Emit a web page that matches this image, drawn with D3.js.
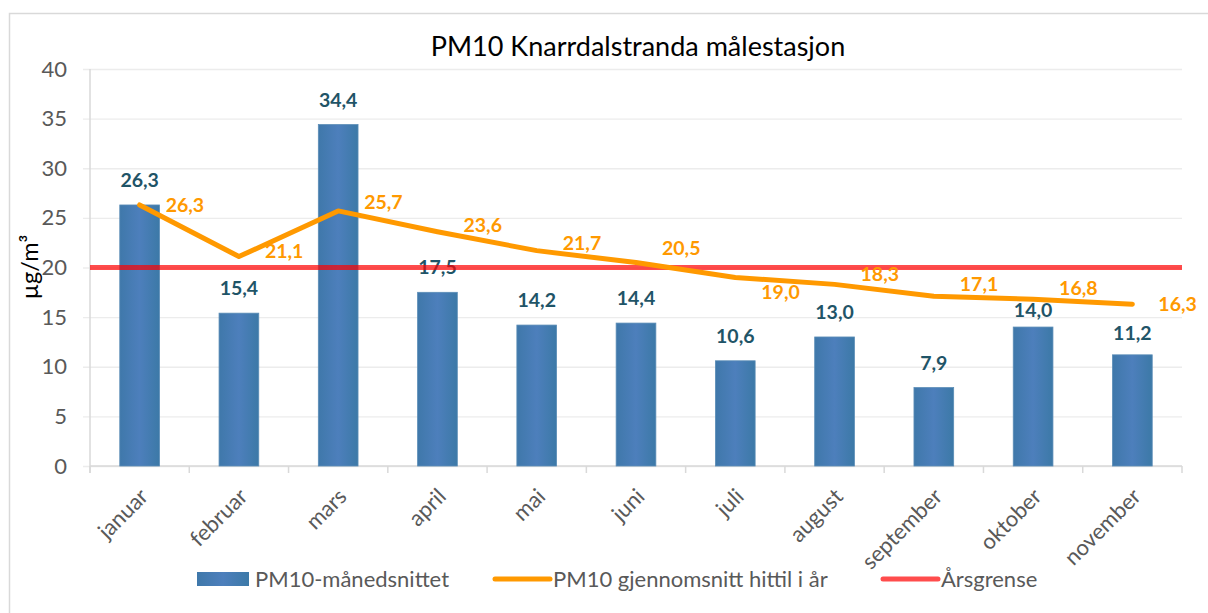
<!DOCTYPE html>
<html>
<head>
<meta charset="utf-8">
<script src="https://cdn.jsdelivr.net/npm/d3@7"></script>
<style>
  body { margin: 0; background: #fff; }
  text { font-family: Lato, "Open Sans", sans-serif; }
</style>
</head>
<body>
<div id="chart"></div>
<script>
// data
var months = ["januar", "februar", "mars", "april", "mai", "juni", "juli", "august", "september", "oktober", "november"];
var monthly = [26.3, 15.4, 34.4, 17.5, 14.2, 14.4, 10.6, 13.0, 7.9, 14.0, 11.2];
var runningAvg = [26.3, 21.1, 25.7, 23.6, 21.7, 20.5, 19.0, 18.3, 17.1, 16.8, 16.3];
var yearLimit = 20;
var yTicks = [0, 5, 10, 15, 20, 25, 30, 35, 40];
var seriesNames = ["PM10-månedsnittet", "PM10 gjennomsnitt hittil i år", "Årsgrense"];
// label nudges (px), as placed in the original
var avgLabelDy = [0, -5, -9, -7, -7, -14, 15, -10, -12, -11, 0];
var barLabelDy = [0, 0, 0, 0, 0, 0, 0, 0, 0, 8, 3];

var svgWidth = 1208, svgHeight = 613;
var margin = { top: 69, right: 26, bottom: 147, left: 90 };
var width = svgWidth - margin.left - margin.right;
var height = svgHeight - margin.top - margin.bottom;

var svg = d3.select("#chart").append("svg")
    .attr("width", svgWidth)
    .attr("height", svgHeight);

// chart border
svg.append("rect")
    .attr("x", 9.5).attr("y", 13.5)
    .attr("width", 1210).attr("height", 620)
    .attr("fill", "none")
    .attr("stroke", "#d9d9d9")
    .attr("stroke-width", 1.5);

// title
svg.append("text")
    .attr("x", 638).attr("y", 56)
    .attr("text-anchor", "middle")
    .attr("font-size", 27)
    .attr("fill", "#000")
    .text("PM10 Knarrdalstranda målestasjon");

var g = svg.append("g")
    .attr("transform", "translate(" + margin.left + "," + margin.top + ")");

var x = d3.scaleBand().domain(months).range([0, width]).padding(0);
var y = d3.scaleLinear().domain([0, 40]).range([height, 0]);
var barW = x.bandwidth() * 0.4;

// gridlines + y axis
var yAxis = g.append("g")
    .call(d3.axisLeft(y).tickValues(yTicks).tickSize(-width - 7).tickPadding(16))
    .attr("transform", "translate(-7,0)");
yAxis.select(".domain").remove();
yAxis.selectAll(".tick line").attr("stroke", "#ececec").attr("stroke-width", 1.3);
yAxis.selectAll(".tick text")
    .attr("fill", "#595959")
    .attr("font-size", 22)
    .attr("font-family", "Lato, sans-serif");

// vertical axis line
g.append("line")
    .attr("x1", 0).attr("x2", 0)
    .attr("y1", 0).attr("y2", height + 7)
    .attr("stroke", "#d9d9d9").attr("stroke-width", 1.5);

// x axis
var xAxis = g.append("g")
    .attr("transform", "translate(0," + height + ")");
xAxis.append("line")
    .attr("x1", 0).attr("x2", width)
    .attr("stroke", "#d9d9d9").attr("stroke-width", 1.5);
xAxis.selectAll(".tk")
    .data(months.concat(["end"]))
    .enter().append("line")
    .attr("x1", function (d, i) { return i * x.step(); })
    .attr("x2", function (d, i) { return i * x.step(); })
    .attr("y1", 0).attr("y2", 7)
    .attr("stroke", "#d9d9d9").attr("stroke-width", 1.5);
xAxis.selectAll(".lbl")
    .data(months)
    .enter().append("text")
    .attr("transform", function (d) {
        return "translate(" + (x(d) + x.bandwidth() / 2 - 1) + ",21) rotate(-45)";
    })
    .attr("text-anchor", "end")
    .attr("dy", "0.7em")
    .attr("font-size", 22)
    .attr("fill", "#595959")
    .text(function (d) { return d; });

// bars
var grad = svg.append("defs").append("linearGradient")
    .attr("id", "barGrad").attr("x1", "0").attr("x2", "1").attr("y1", "0").attr("y2", "0");
grad.append("stop").attr("offset", "0%").attr("stop-color", "#3f78aa");
grad.append("stop").attr("offset", "50%").attr("stop-color", "#4d7fbc");
grad.append("stop").attr("offset", "100%").attr("stop-color", "#3c79a7");

g.selectAll(".bar")
    .data(monthly)
    .enter().append("rect")
    .attr("class", "bar")
    .attr("x", function (d, i) { return x(months[i]) + (x.bandwidth() - barW) / 2; })
    .attr("y", function (d) { return y(d); })
    .attr("width", barW)
    .attr("height", function (d) { return height - y(d); })
    .attr("fill", "url(#barGrad)")
    .attr("stroke", "#5a8cb6")
    .attr("stroke-width", 0.8);

// bar labels
var fmt = function (v) { return d3.format(".1f")(v).replace(".", ","); };
g.selectAll(".barLbl")
    .data(monthly)
    .enter().append("text")
    .attr("x", function (d, i) { return x(months[i]) + x.bandwidth() / 2; })
    .attr("y", function (d, i) { return y(d) - 18 + barLabelDy[i]; })
    .attr("text-anchor", "middle")
    .attr("font-size", 19.5)
    .attr("font-weight", "bold")
    .attr("fill", "#1f5467")
    .text(fmt);

// year limit line
g.append("line")
    .attr("x1", 0).attr("x2", width)
    .attr("y1", y(yearLimit)).attr("y2", y(yearLimit))
    .attr("stroke", "#ff0000")
    .attr("stroke-opacity", 0.7)
    .attr("stroke-width", 5);

// running average line
var line = d3.line()
    .x(function (d, i) { return x(months[i]) + x.bandwidth() / 2; })
    .y(function (d) { return y(d); });

g.append("path")
    .datum(runningAvg)
    .attr("fill", "none")
    .attr("stroke", "#ff9900")
    .attr("stroke-width", 5)
    .attr("stroke-linejoin", "round")
    .attr("stroke-linecap", "round")
    .attr("d", line);

g.selectAll(".avgLbl")
    .data(runningAvg)
    .enter().append("text")
    .attr("x", function (d, i) { return x(months[i]) + x.bandwidth() / 2 + 26; })
    .attr("y", function (d, i) { return y(d) + avgLabelDy[i]; })
    .attr("dy", "0.35em")
    .attr("font-size", 19.5)
    .attr("font-weight", "bold")
    .attr("fill", "#ff9900")
    .text(fmt);

// y axis title
svg.append("text")
    .attr("transform", "translate(38,267) rotate(-90)")
    .attr("text-anchor", "middle")
    .attr("font-size", 23.5)
    .attr("fill", "#000")
    .text("µg/m³");

// legend
var legend = svg.append("g").attr("transform", "translate(0,579)");
var legX = [197, 495, 883];
legend.append("rect")
    .attr("x", legX[0]).attr("y", -7)
    .attr("width", 52).attr("height", 14)
    .attr("fill", "url(#barGrad)");
legend.append("line")
    .attr("x1", legX[1]).attr("x2", legX[1] + 55)
    .attr("stroke", "#ff9900").attr("stroke-width", 5).attr("stroke-linecap", "round");
legend.append("line")
    .attr("x1", legX[2]).attr("x2", legX[2] + 55)
    .attr("stroke", "#ff0000").attr("stroke-opacity", 0.7).attr("stroke-width", 5).attr("stroke-linecap", "round");
legend.selectAll(".legTxt")
    .data(seriesNames)
    .enter().append("text")
    .attr("x", function (d, i) { return legX[i] + 58; })
    .attr("dy", "0.35em")
    .attr("font-size", 22)
    .attr("fill", "#595959")
    .text(function (d) { return d; });
</script>
</body>
</html>
